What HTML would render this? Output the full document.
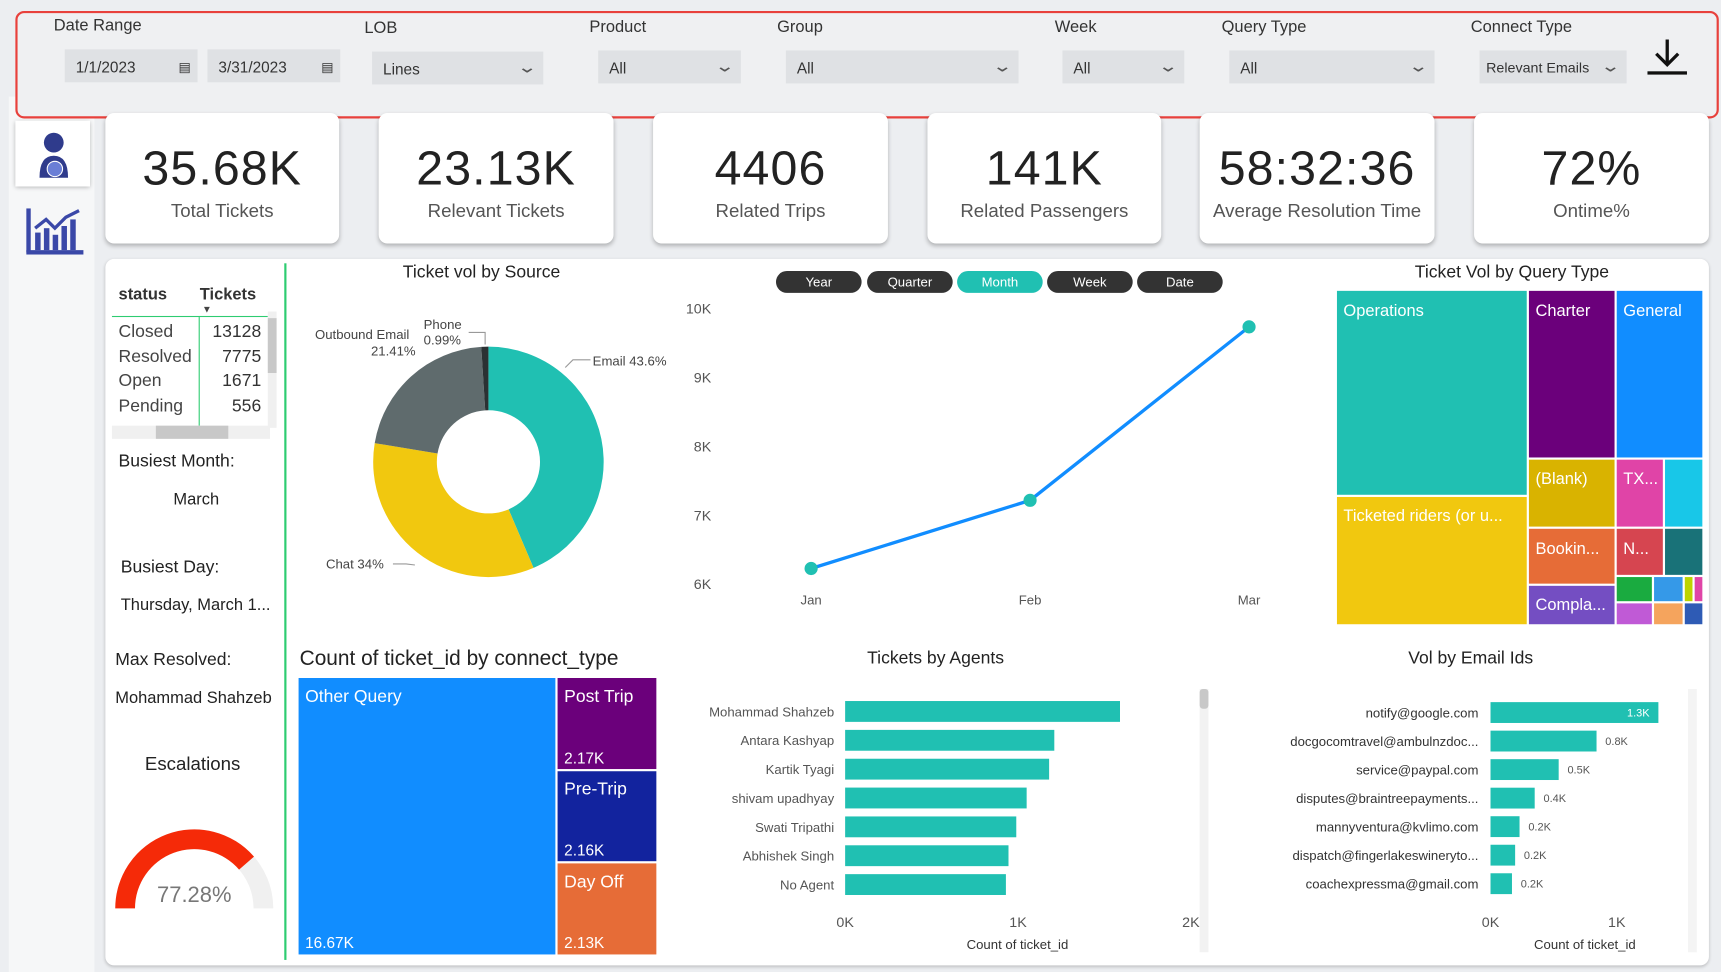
<!DOCTYPE html>
<html><head><meta charset="utf-8">
<style>
html,body{margin:0;padding:0;width:1721px;height:972px;overflow:hidden;background:#eceef1;font-family:"Liberation Sans",sans-serif;}
#root{position:absolute;left:0;top:0;width:1568px;height:886px;transform-origin:0 0;transform:scale(1.09758,1.09707);background:#eceef1;}
.abs{position:absolute;}
.lbl{position:absolute;font-size:15px;color:#333;}
.inp{position:absolute;height:30px;background:#dfe1e4;font-size:14px;color:#333;line-height:32px;padding-left:10px;box-sizing:border-box;}
.chev{position:absolute;right:8px;top:-1px;color:#555;font-size:15px;transform:scaleX(1.5);}
.card{position:absolute;top:103px;height:119px;background:#fff;border-radius:8px;box-shadow:0 2px 4px rgba(0,0,0,.25);text-align:center;}
.card .v{font-size:44px;color:#222;margin-top:26px;letter-spacing:1px;}
.card .t{font-size:17px;color:#555;margin-top:4px;}
.btn{position:absolute;top:247px;height:20px;width:78px;border-radius:10px;background:#333;color:#fff;font-size:12px;text-align:center;line-height:20px;}
text{font-family:"Liberation Sans",sans-serif;}
</style></head><body>
<div id="root">
<!-- sidebar -->
<div class="abs" style="left:8px;top:88px;width:78px;height:798px;background:#f6f7f8;"></div>
<div class="abs" style="left:14px;top:110px;width:68px;height:60px;background:#fff;box-shadow:0 1px 4px rgba(0,0,0,.3);">
<svg width="68" height="60"><circle cx="35" cy="20" r="9" fill="#2f3b8c"/><path d="M22 52 Q22 32 35 32 Q48 32 48 52Z" fill="#2f3b8c"/><circle cx="36" cy="44" r="7" fill="#6a7ed6" stroke="#fff"/></svg></div>
<div class="abs" style="left:22px;top:188px;">
<svg width="56" height="46"><g fill="#3a48a8"><rect x="2" y="40" width="52" height="4"/><rect x="2" y="2" width="4" height="40"/><rect x="10" y="24" width="5" height="16"/><rect x="18" y="20" width="5" height="20"/><rect x="26" y="26" width="5" height="14"/><rect x="34" y="18" width="5" height="22"/><rect x="42" y="12" width="5" height="28"/></g><polyline points="10,20 20,12 28,20 38,10 50,4" stroke="#3a48a8" stroke-width="3" fill="none"/></svg></div>

<!-- filter bar -->
<div class="abs" style="left:14px;top:10px;width:1552px;height:98px;border:2px solid #e8413c;border-radius:8px;background:#eff0f2;box-sizing:border-box;"></div>
<div class="lbl" style="left:49px;top:15px">Date Range</div>
<div class="lbl" style="left:332px;top:17px">LOB</div>
<div class="lbl" style="left:537px;top:16px">Product</div>
<div class="lbl" style="left:708px;top:16px">Group</div>
<div class="lbl" style="left:961px;top:16px">Week</div>
<div class="lbl" style="left:1113px;top:16px">Query Type</div>
<div class="lbl" style="left:1340px;top:16px">Connect Type</div>
<div class="inp" style="left:59px;top:45px;width:121px">1/1/2023<span class="abs" style="right:6px;top:0;font-size:12px">▤</span></div>
<div class="inp" style="left:189px;top:45px;width:121px">3/31/2023<span class="abs" style="right:6px;top:0;font-size:12px">▤</span></div>
<div class="inp" style="left:339px;top:47px;width:156px">Lines<span class="chev">⌄</span></div>
<div class="inp" style="left:545px;top:46px;width:130px">All<span class="chev">⌄</span></div>
<div class="inp" style="left:716px;top:46px;width:212px">All<span class="chev">⌄</span></div>
<div class="inp" style="left:968px;top:46px;width:111px">All<span class="chev">⌄</span></div>
<div class="inp" style="left:1120px;top:46px;width:187px">All<span class="chev">⌄</span></div>
<div class="inp" style="left:1348px;top:46px;width:134px;font-size:13px;padding-left:6px">Relevant Emails<span class="chev">⌄</span></div>
<svg class="abs" style="left:1500px;top:34px" width="38" height="36"><line x1="19" y1="2" x2="19" y2="24" stroke="#111" stroke-width="3"/><polyline points="9,15 19,25 29,15" stroke="#111" stroke-width="3" fill="none"/><rect x="1" y="31" width="36" height="3" fill="#111"/></svg>

<!-- KPI cards -->
<div class="card" style="left:96px;width:213px"><div class="v">35.68K</div><div class="t">Total Tickets</div></div>
<div class="card" style="left:345px;width:214px"><div class="v">23.13K</div><div class="t">Relevant Tickets</div></div>
<div class="card" style="left:595px;width:214px"><div class="v">4406</div><div class="t">Related Trips</div></div>
<div class="card" style="left:845px;width:213px"><div class="v">141K</div><div class="t">Related Passengers</div></div>
<div class="card" style="left:1093px;width:214px"><div class="v">58:32:36</div><div class="t">Average Resolution Time</div></div>
<div class="card" style="left:1343px;width:214px"><div class="v">72%</div><div class="t">Ontime%</div></div>

<!-- main panel -->
<div class="abs" style="left:96px;top:236px;width:1461px;height:644px;background:#fff;border-radius:8px;box-shadow:0 1px 3px rgba(0,0,0,.2);"></div>
<div class="abs" style="left:259px;top:240px;width:2px;height:635px;background:#2ecc71;"></div>

<!-- status table -->
<div class="abs" style="left:102px;top:256px;width:155px;height:145px;font-size:16px;color:#444;">
<div class="abs" style="left:6px;top:4px;font-weight:bold;font-size:15px;color:#333">status</div>
<div class="abs" style="left:80px;top:4px;font-weight:bold;font-size:15px;color:#333">Tickets</div>
<div class="abs" style="left:82px;top:21px;font-size:9px">▼</div>
<div class="abs" style="left:0;top:32px;width:142px;height:1px;background:#2ecc71"></div>
<div class="abs" style="left:79px;top:33px;width:1px;height:100px;background:#2ecc71"></div>
<div class="abs" style="left:6px;top:36px;line-height:22.5px">Closed<br>Resolved<br>Open<br>Pending</div>
<div class="abs" style="left:84px;top:36px;width:52px;text-align:right;line-height:22.5px;color:#333">13128<br>7775<br>1671<br>556</div>
<div class="abs" style="left:142px;top:28px;width:8px;height:106px;background:#f0f0f0"><div style="margin-top:6px;height:50px;background:#c8c8c8"></div></div>
<div class="abs" style="left:0;top:132px;width:144px;height:12px;background:#f0f0f0"><div style="margin-left:40px;width:66px;height:12px;background:#c8c8c8"></div></div>
</div>
<div class="abs" style="left:108px;top:412px;font-size:16px;color:#222">Busiest Month:</div>
<div class="abs" style="left:158px;top:447px;font-size:15px;color:#222">March</div>
<div class="abs" style="left:110px;top:509px;font-size:16px;color:#222">Busiest Day:</div>
<div class="abs" style="left:110px;top:543px;font-size:15px;color:#222">Thursday, March 1...</div>
<div class="abs" style="left:105px;top:593px;font-size:16px;color:#222">Max Resolved:</div>
<div class="abs" style="left:105px;top:628px;font-size:15px;color:#222">Mohammad Shahzeb</div>
<div class="abs" style="left:132px;top:687px;font-size:17px;color:#222">Escalations</div>
<svg class="abs" style="left:100px;top:748px" width="160" height="90">
<path id="gbg" fill="#f0f0f0"/><path id="gfg" fill="#f52a08"/>
<text x="77" y="74" font-size="20" fill="#777" text-anchor="middle">77.28%</text></svg>

<!-- donut -->
<div class="abs" style="left:367px;top:240px;font-size:16px;color:#222">Ticket vol by Source</div>
<svg class="abs" style="left:270px;top:270px" width="360" height="300" id="donut"></svg>

<!-- line chart -->
<div class="btn" style="left:707px">Year</div>
<div class="btn" style="left:790px">Quarter</div>
<div class="btn" style="left:872px;background:#20c0b2">Month</div>
<div class="btn" style="left:954px">Week</div>
<div class="btn" style="left:1036px">Date</div>
<svg class="abs" style="left:600px;top:260px" width="600" height="310" id="line"></svg>

<!-- query type treemap -->
<div class="abs" style="left:1289px;top:240px;font-size:16px;color:#222">Ticket Vol by Query Type</div>
<svg class="abs" style="left:1218px;top:265px" width="334" height="305" font-size="15" fill="#fff">
<rect x="0" y="0" width="173" height="186" fill="#20c0b2"/><text x="6" y="23">Operations</text>
<rect x="0" y="188" width="173" height="116" fill="#f1c80f"/><text x="6" y="210">Ticketed riders (or u...</text>
<rect x="175" y="0" width="78" height="152" fill="#6b007b"/><text x="181" y="23">Charter</text>
<rect x="255" y="0" width="78" height="152" fill="#118dff"/><text x="261" y="23">General</text>
<rect x="175" y="154" width="78" height="61" fill="#d9b300"/><text x="181" y="176">(Blank)</text>
<rect x="255" y="154" width="42" height="61" fill="#e044a7"/><text x="261" y="176">TX...</text>
<rect x="299" y="154" width="34" height="61" fill="#18c7e8"/>
<rect x="175" y="217" width="78" height="50" fill="#e66c37"/><text x="181" y="240">Bookin...</text>
<rect x="255" y="217" width="42" height="42" fill="#d64550"/><text x="261" y="240">N...</text>
<rect x="299" y="217" width="34" height="42" fill="#197278"/>
<rect x="175" y="269" width="78" height="35" fill="#744ec2"/><text x="181" y="291">Compla...</text>
<rect x="255" y="261" width="32" height="22" fill="#1aab40"/><rect x="289" y="261" width="26" height="22" fill="#3599e8"/><rect x="317" y="261" width="7" height="22" fill="#bdd400"/><rect x="326" y="261" width="7" height="22" fill="#e044a7"/>
<rect x="255" y="285" width="32" height="19" fill="#c05ad6"/><rect x="289" y="285" width="26" height="19" fill="#f5a45d"/><rect x="317" y="285" width="16" height="19" fill="#2e5bb5"/>
</svg>

<!-- connect type treemap -->
<div class="abs" style="left:273px;top:590px;font-size:19px;color:#222">Count of ticket_id by connect_type</div>
<svg class="abs" style="left:272px;top:618px" width="328" height="254" font-size="16" fill="#fff">
<rect x="0" y="0" width="234" height="252" fill="#118dff"/><text x="6" y="22">Other Query</text><text x="6" y="246" font-size="14">16.67K</text>
<rect x="236" y="0" width="90" height="83" fill="#6b007b"/><text x="242" y="22">Post Trip</text><text x="242" y="78" font-size="14">2.17K</text>
<rect x="236" y="85" width="90" height="82" fill="#12239e"/><text x="242" y="106">Pre-Trip</text><text x="242" y="162" font-size="14">2.16K</text>
<rect x="236" y="169" width="90" height="83" fill="#e66c37"/><text x="242" y="191">Day Off</text><text x="242" y="246" font-size="14">2.13K</text>
</svg>

<!-- agents bar -->
<div class="abs" style="left:790px;top:592px;font-size:16px;color:#222">Tickets by Agents</div>
<svg class="abs" style="left:620px;top:620px" width="490" height="255" id="agents"></svg>

<!-- email bar -->
<div class="abs" style="left:1283px;top:592px;font-size:16px;color:#222">Vol by Email Ids</div>
<svg class="abs" style="left:1110px;top:620px" width="445" height="255" id="emails"></svg>
</div>

<script>
const NS="http://www.w3.org/2000/svg";
function mk(p,t,a,txt){const e=document.createElementNS(NS,t);for(const k in a)e.setAttribute(k,a[k]);if(txt!=null)e.textContent=txt;p.appendChild(e);return e;}

// gauge
const gaugeValue=77.28;
(function(){
 const cx=77,cy=80,R=72,r=54;
 function arc(a0,a1){const p=(a,rr)=>[cx+rr*Math.cos(a),cy-rr*Math.sin(a)];
  const [x0,y0]=p(a0,R),[x1,y1]=p(a1,R),[x2,y2]=p(a1,r),[x3,y3]=p(a0,r);
  return `M${x0},${y0} A${R},${R} 0 0 1 ${x1},${y1} L${x2},${y2} A${r},${r} 0 0 0 ${x3},${y3}Z`;}
 document.getElementById('gbg').setAttribute('d',arc(Math.PI,0));
 document.getElementById('gfg').setAttribute('d',arc(Math.PI,Math.PI*(1-gaugeValue/100)));
})();

// donut
const srcNames=["Email","Chat","Outbound Email","Phone"];
const srcPct=[43.6,34,21.41,0.99];
const srcColors=["#20c0b2","#f1c80f","#5f6b6d","#2b3133"];
(function(){
 const s=document.getElementById('donut');const cx=175,cy=151,R=105,r=47;
 let a=0;const tot=srcPct.reduce((x,y)=>x+y,0);
 srcPct.forEach((v,i)=>{
  const a0=a/tot*2*Math.PI,a1=(a+v)/tot*2*Math.PI;a+=v;
  const p=(t,rr)=>[cx+rr*Math.sin(t),cy-rr*Math.cos(t)];
  const [x0,y0]=p(a0,R),[x1,y1]=p(a1,R),[x2,y2]=p(a1,r),[x3,y3]=p(a0,r);const lg=(a1-a0)>Math.PI?1:0;
  const e=mk(s,'path',{d:`M${x0},${y0} A${R},${R} 0 ${lg} 1 ${x1},${y1} L${x2},${y2} A${r},${r} 0 ${lg} 0 ${x3},${y3}Z`,fill:srcColors[i]});
  
  
 });
 const g={fill:'#444','font-size':12};
 mk(s,'polyline',{points:"245,65 252,58 268,58",stroke:'#999',fill:'none'});
 mk(s,'text',Object.assign({x:270,y:63},g),"Email "+srcPct[0]+"%");
 mk(s,'polyline',{points:"108,245 100,244 88,244",stroke:'#999',fill:'none'});
 mk(s,'text',Object.assign({x:27,y:248},g),"Chat "+srcPct[1]+"%");
 mk(s,'text',Object.assign({x:17,y:39},g),"Outbound Email");
 mk(s,'text',Object.assign({x:68,y:54},g),srcPct[2]+"%");
 mk(s,'text',Object.assign({x:116,y:30},g),"Phone");
 mk(s,'text',Object.assign({x:116,y:44},g),srcPct[3]+"%");
 mk(s,'polyline',{points:"157,33 172,33 172,44",stroke:'#999',fill:'none'});
})();

// line
const months=["Jan","Feb","Mar"];
const monthVals=[6220,7210,9730];
const yTicks=[6000,7000,8000,9000,10000];
const yTickLabels=["6K","7K","8K","9K","10K"];
(function(){
 const s=document.getElementById('line');
 const y=v=>272-(v-6000)/4000*251; const x=i=>139+i*199.5;
 yTicks.forEach((t,i)=>{const e=mk(s,'text',{x:48,y:y(t)+5,'font-size':13,fill:'#555','text-anchor':'end'},yTickLabels[i]);
  });
 months.forEach((m,i)=>{const e=mk(s,'text',{x:x(i),y:291,'font-size':12,fill:'#555','text-anchor':'middle'},m);
  });
 const l=mk(s,'polyline',{points:monthVals.map((v,i)=>x(i)+','+y(v)).join(' '),stroke:'#118dff','stroke-width':3,fill:'none'});
 
 monthVals.forEach((v,i)=>{const c=mk(s,'circle',{cx:x(i),cy:y(v),r:6,fill:'#20c0b2'});
  });
})();

// agents
const agents=["Mohammad Shahzeb","Antara Kashyap","Kartik Tyagi","shivam upadhyay","Swati Tripathi","Abhishek Singh","No Agent"];
const agentVals=[1590,1210,1180,1050,990,945,930];
const agentTicks=[0,1000,2000];
const agentTickLabels=["0K","1K","2K"];
(function(){
 const s=document.getElementById('agents');const x=v=>150+v/2000*315;
 mk(s,'rect',{x:473,y:8,width:8,height:240,fill:'#f2f2f2'});mk(s,'rect',{x:473,y:8,width:8,height:18,rx:3,fill:'#c8c8c8'});
 agents.forEach((a,i)=>{const yy=28+i*26.3;
  const t=mk(s,'text',{x:140,y:yy+5,'font-size':12,fill:'#555','text-anchor':'end'},a);
  
  const b=mk(s,'rect',{x:150,y:yy-9,width:x(agentVals[i])-150,height:19,fill:'#20c0b2'});
  });
 agentTicks.forEach((t,i)=>{const e=mk(s,'text',{x:x(t),y:225,'font-size':13,fill:'#555','text-anchor':'middle'},agentTickLabels[i]);
  });
 mk(s,'text',{x:307,y:245,'font-size':12,fill:'#333','text-anchor':'middle'},"Count of ticket_id");
})();

// emails
const emails=["notify@google.com","docgocomtravel@ambulnzdoc...","service@paypal.com","disputes@braintreepayments...","mannyventura@kvlimo.com","dispatch@fingerlakeswineryto...","coachexpressma@gmail.com"];
const emailVals=[1330,840,540,350,230,195,170];
const emailLabels=["1.3K","0.8K","0.5K","0.4K","0.2K","0.2K","0.2K"];
const emailTicks=[0,1000];
const emailTickLabels=["0K","1K"];
(function(){
 const s=document.getElementById('emails');const x=v=>248+v/1000*115;
 mk(s,'rect',{x:428,y:8,width:8,height:240,fill:'#f4f4f4'});
 emails.forEach((a,i)=>{const yy=29+i*26;
  const t=mk(s,'text',{x:237,y:yy+5,'font-size':12,fill:'#333','text-anchor':'end'},a);
  
  const w=x(emailVals[i])-248;
  const b=mk(s,'rect',{x:248,y:yy-9,width:w,height:19,fill:'#20c0b2'});
  
  if(i===0)mk(s,'text',{x:248+w-8,y:yy+4,'font-size':10,fill:'#fff','text-anchor':'end'},emailLabels[i]);
  else mk(s,'text',{x:248+w+8,y:yy+4,'font-size':10,fill:'#555'},emailLabels[i]);});
 emailTicks.forEach((t,i)=>{const e=mk(s,'text',{x:x(t),y:225,'font-size':13,fill:'#555','text-anchor':'middle'},emailTickLabels[i]);
  });
 mk(s,'text',{x:334,y:245,'font-size':12,fill:'#333','text-anchor':'middle'},"Count of ticket_id");
})();
</script>
</body></html>
